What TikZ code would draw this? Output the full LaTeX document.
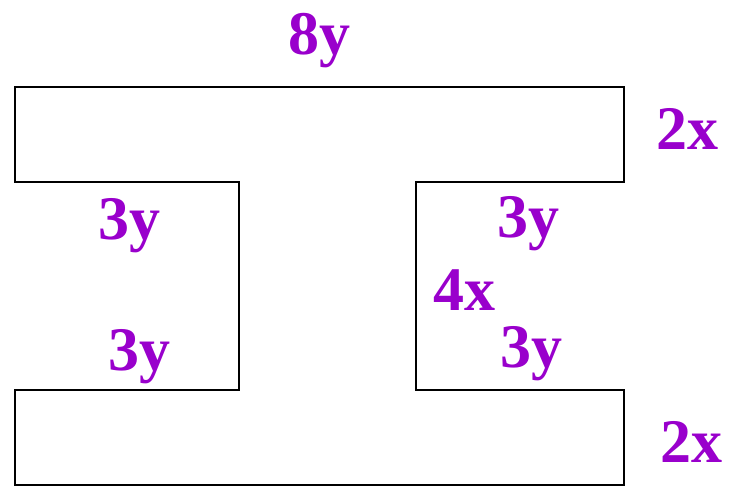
\documentclass[tikz,border=0pt]{standalone}
\usepackage{fontspec}
\setmainfont{Liberation Serif}
\definecolor{lab}{HTML}{9900CC}
\begin{document}
\begin{tikzpicture}[x=1pt,y=-1pt,
  lbl/.style={anchor=base west,inner sep=0pt,text=lab,font=\fontsize{62}{62}\selectfont\bfseries}]
\useasboundingbox (0,0) rectangle (738,486);
\draw[line width=1.6pt] (15,87) -- (624,87) -- (624,182) -- (416,182) -- (416,390) -- (624,390) -- (624,485)
  -- (15,485) -- (15,390) -- (239,390) -- (239,182) -- (15,182) -- cycle;
\node[lbl] (t8y) at (288,55) {8y};
\node[lbl] (t2xa) at (656,150) {2x};
\node[lbl] (t3ya) at (98,240) {3y};
\node[lbl] (t3yb) at (108,370) {3y};
\node[lbl] (t3yc) at (497,237) {3y};
\node[lbl] (t4x) at (433,310) {4x};
\node[lbl] (t3yd) at (500,367) {3y};
\node[lbl] (t2xb) at (660,462) {2x};
\end{tikzpicture}
\end{document}
